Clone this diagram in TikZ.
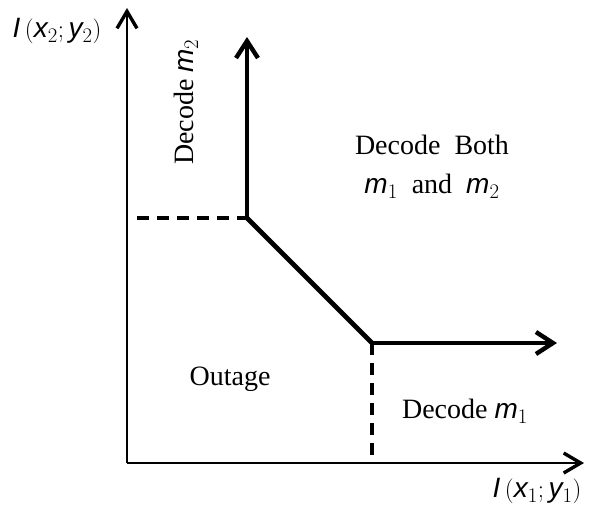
\documentclass[tikz,border=0pt]{standalone}
\usepackage{fontspec}
\setmainfont{Liberation Serif}
\newfontfamily\mysans{Liberation Sans}
\usetikzlibrary{arrows.meta}
\newcommand{\vr}[2]{{\mysans\itshape #1}$_{#2}$}
\newcommand{\mI}{{\mysans\itshape I}}
\begin{document}
\begin{tikzpicture}[x=1pt,y=-1pt,
  axis/.style={line width=1.8pt,-{Straight Barb[length=17pt,width=20pt,line width=3.4pt]}},
  bound/.style={line width=4.8pt,line join=miter},
  boundarrow/.style={bound,-{Straight Barb[length=17pt,width=22pt,line width=4.4pt]}},
  dashline/.style={line width=3.2pt,dash pattern=on 12pt off 8pt},
  lbl/.style={font=\fontsize{28}{33}\selectfont,inner sep=0pt}]
\useasboundingbox (0,0) rectangle (607,523);
\coordinate (O) at (127,463);
\coordinate (Ytop) at (127,8);
\coordinate (Xend) at (584,463);
\coordinate (T) at (247,37);
\coordinate (A) at (247,218);
\coordinate (B) at (372,343);
\coordinate (R) at (557,343);
\coordinate (Ay) at (137,218);
\coordinate (Bx) at (372,463);
\draw[axis] (O) -- (Ytop);
\draw[axis] (O) -- (Xend);
\draw[dashline] (Ay) -- (A);
\draw[dashline] (B) -- (Bx);
\draw[bound] (A) -- (B);
\draw[boundarrow] (A) -- (T);
\draw[boundarrow] (B) -- (R);
\node[lbl] (ylab) at (57,31) {\mI\,$($\vr{x}{2}$;$\,\vr{y}{2}$)$};
\node[lbl] (xlab) at (537,491) {\mI\,$($\vr{x}{1}$;$\,\vr{y}{1}$)$};
\node[lbl,rotate=90] (dm2) at (186,102) {Decode \vr{m}{2}};
\node[lbl] (both1) at (432,145) {Decode\ \ Both};
\node[lbl] (both2) at (432,186) {\vr{m}{1} \ and \ \vr{m}{2}};
\node[lbl] (out) at (230,379) {Outage};
\node[lbl] (dm1) at (465,411) {Decode \vr{m}{1}};
\end{tikzpicture}
\end{document}
